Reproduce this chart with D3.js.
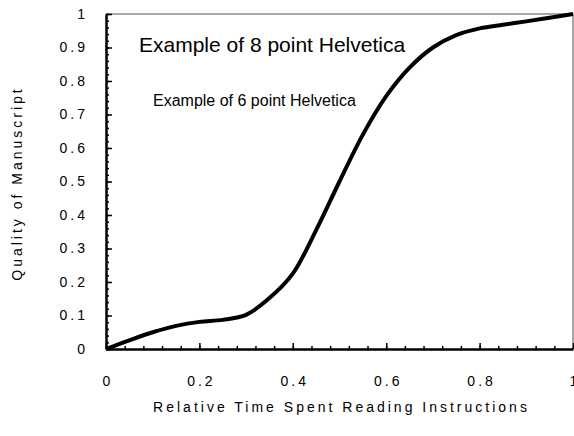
<!DOCTYPE html>
<html>
<head>
<meta charset="utf-8">
<script src="https://cdn.jsdelivr.net/npm/d3@7"></script>
<style>
  body { margin: 0; background: #fff; }
  text { font-family: "Liberation Sans", Arial, Helvetica, sans-serif; fill: #000; }
  .tickLabel { font-size: 14px; letter-spacing: 3px; }
  .axisTitle { font-size: 14px; letter-spacing: 3px; }
</style>
</head>
<body>
<div id="chart"></div>
<script>
// curve
var timeValues = [0, 0.05, 0.1, 0.15, 0.2, 0.25, 0.3, 0.35, 0.4, 0.45, 0.5, 0.55, 0.6, 0.65, 0.7, 0.75, 0.8, 0.85, 0.9, 0.95, 1];
var qualityValues = [0, 0.026, 0.05, 0.069, 0.081, 0.087, 0.102, 0.152, 0.225, 0.355, 0.5, 0.64, 0.755, 0.84, 0.9, 0.937, 0.957, 0.968, 0.978, 0.989, 1];

var xTicks = [0, 0.2, 0.4, 0.6, 0.8, 1];
var xTickLabels = ["0", "0.2", "0.4", "0.6", "0.8", "1"];
var yTicks = [0, 0.1, 0.2, 0.3, 0.4, 0.5, 0.6, 0.7, 0.8, 0.9, 1];
var yTickLabels = ["0", "0.1", "0.2", "0.3", "0.4", "0.5", "0.6", "0.7", "0.8", "0.9", "1"];
var xMinorStep = 0.04;
var yMinorStep = 0.02;

var annotations = ["Example of 8 point Helvetica", "Example of 6 point Helvetica"];
var xTitle = "Relative Time Spent Reading Instructions";
var yTitle = "Quality of Manuscript";

var W = 574, H = 436;
var plotL = 106, plotR = 573, plotT = 14, plotB = 349;

var svg = d3.select("#chart").append("svg")
  .attr("width", W).attr("height", H);

var x = d3.scaleLinear().domain([0, 1]).range([plotL, plotR]);
var y = d3.scaleLinear().domain([0, 1]).range([plotB, plotT]);

// grey frame on top and right
svg.append("path")
  .attr("d", "M" + plotL + "," + plotT + "H" + plotR + "V" + plotB)
  .attr("fill", "none")
  .attr("stroke", "#8c8c8c")
  .attr("stroke-width", 1.5);

var xMinor = d3.range(0, 1 + 1e-9, xMinorStep);
var yMinor = d3.range(0, 1 + 1e-9, yMinorStep);

// minor ticks
svg.append("g")
  .attr("transform", "translate(0," + plotB + ")")
  .call(d3.axisBottom(x).tickValues(xMinor).tickSize(-3).tickSizeOuter(0).tickFormat(""))
  .call(function(g) { g.select(".domain").remove(); })
  .selectAll("line").attr("stroke", "#000").attr("stroke-width", 1.5);

svg.append("g")
  .attr("transform", "translate(" + plotL + ",0)")
  .call(d3.axisLeft(y).tickValues(yMinor).tickSize(-3).tickSizeOuter(0).tickFormat(""))
  .call(function(g) { g.select(".domain").remove(); })
  .selectAll("line").attr("stroke", "#000").attr("stroke-width", 1.5);

// major ticks + labels
var xAxis = svg.append("g")
  .attr("transform", "translate(0," + plotB + ")")
  .call(d3.axisBottom(x).tickValues(xTicks).tickSize(-6).tickSizeOuter(0).tickPadding(27)
    .tickFormat(function(d, i) { return xTickLabels[i]; }));
xAxis.select(".domain").attr("stroke", "#000").attr("stroke-width", 2.5);
xAxis.selectAll("line").attr("stroke", "#000").attr("stroke-width", 1.5);
xAxis.selectAll("text").attr("class", "tickLabel").attr("dx", "1.5px");

var yAxis = svg.append("g")
  .attr("transform", "translate(" + plotL + ",0)")
  .call(d3.axisLeft(y).tickValues(yTicks).tickSize(-6).tickSizeOuter(0).tickPadding(18)
    .tickFormat(function(d, i) { return yTickLabels[i]; }));
yAxis.select(".domain").attr("stroke", "#000").attr("stroke-width", 2.5);
yAxis.selectAll("line").attr("stroke", "#000").attr("stroke-width", 1.5);
yAxis.selectAll("text").attr("class", "tickLabel");

svg.selectAll(".tick text").attr("font-family", null).attr("font-size", null);

// the curve
var line = d3.line()
  .x(function(d) { return x(d[0]); })
  .y(function(d) { return y(d[1]); })
  .curve(d3.curveCatmullRom.alpha(0.5));

svg.append("path")
  .datum(d3.zip(timeValues, qualityValues))
  .attr("d", line)
  .attr("fill", "none")
  .attr("stroke", "#000")
  .attr("stroke-width", 4)
  .attr("stroke-linejoin", "round");

// annotations
svg.append("text")
  .attr("x", 139).attr("y", 52)
  .style("font-size", "21px")
  .text(annotations[0]);
svg.append("text")
  .attr("x", 153).attr("y", 106)
  .style("font-size", "16px")
  .text(annotations[1]);

// axis titles
svg.append("text")
  .attr("class", "axisTitle")
  .attr("x", (plotL + plotR) / 2 + 2).attr("y", 412)
  .attr("text-anchor", "middle")
  .text(xTitle);

svg.append("text")
  .attr("class", "axisTitle")
  .attr("transform", "translate(22," + ((plotT + plotB) / 2 + 2) + ") rotate(-90)")
  .attr("text-anchor", "middle")
  .text(yTitle);
</script>
</body>
</html>
